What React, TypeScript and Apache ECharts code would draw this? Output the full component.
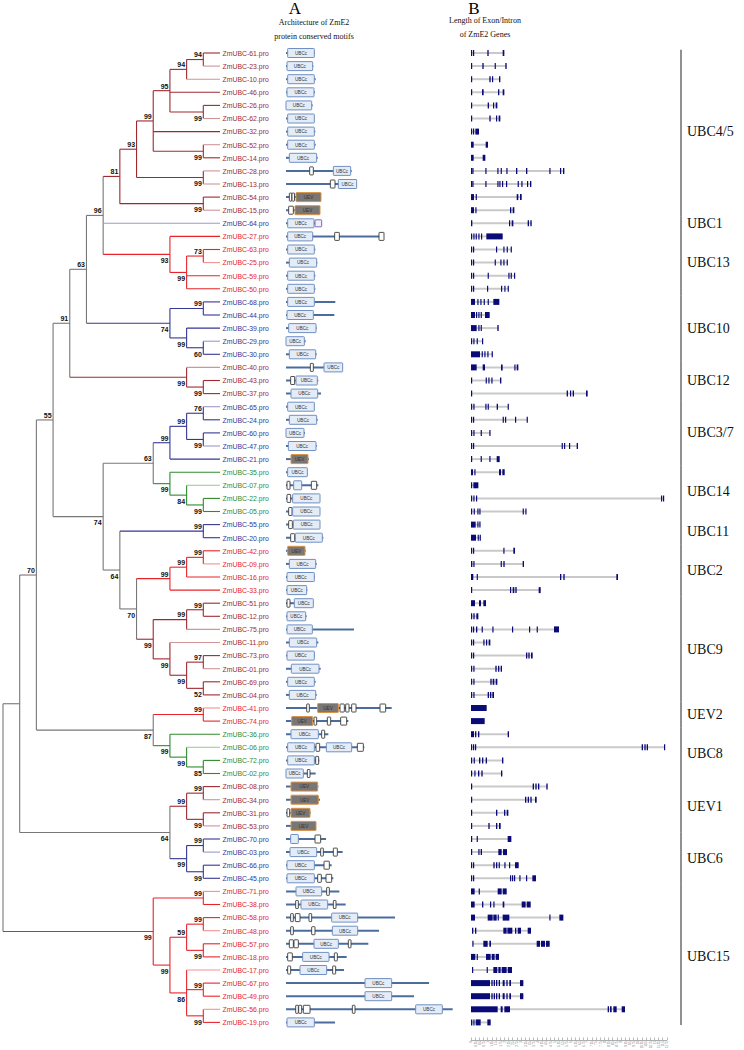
import React, { useEffect, useRef } from "react";
import * as echarts from "echarts";

// ---------------- Tree topology (Newick with bootstrap values) ----------------
const T_UBC45 = "((((((61,23)94,10)94,46,(26,62)99)95,32,(52,14)99)99,(28,13)99)93,(54,15)99)81";
const T_UBC13 = "(27,((63,25)73,59,50)99)93";
const T_N96 = `(${T_UBC45},64,${T_UBC13})96`;
const T_UBC10 = "((68,44)99,(39,(29,30)60)99)74";
const T_UBC12 = "(40,(43,37)99)99";
const T_N91 = `((${T_N96},${T_UBC10})63,${T_UBC12})91`;
const T_UBC37 = "(((65,24)76,(60,47)99)99,21)99";
const T_UBC14 = "(35,(07,(22,05)99)84)99";
const T_UBC11 = "(55,20)99";
const T_UBC2 = "(((42,09)99,16)99,33)99";
const T_UBC9 = "(((51,12)99,75)99,(11,((73,01)97,(69,04)52)99)99)99";
const T_N74 = `((${T_UBC37},${T_UBC14})63,(${T_UBC11},(${T_UBC2},${T_UBC9})70)64)74`;
const T_N87 = "((41,74)99,(36,(06,(72,02)85)99)99)87";
const T_N64 = "(((08,34)99,(31,53)99)99,((70,03)99,(66,45)99)99)64";
const T_UBC15 = "((71,38)99,(((58,48)99,(57,18)99)59,(17,(67,49)99,(56,19)99)86)99)99";
const NEWICK = `((((${T_N91},${T_N74})55,${T_N87})70,${T_N64}),${T_UBC15})`;

// ---------------- Subfamilies (in leaf order) ----------------
const GROUP_LABELS = ["UBC4/5", "UBC1", "UBC13", "UBC10", "UBC12", "UBC3/7", "UBC14", "UBC11", "UBC2", "UBC9", "UEV2", "UBC8", "UEV1", "UBC6", "UBC15"];
const GROUP_SIZES = [13, 1, 5, 5, 3, 5, 4, 2, 4, 8, 2, 4, 4, 4, 11];
const GROUP_TONES = ["dr", "b", "r", "b", "dr", "b", "g", "b", "r", "dr", "r", "g", "dr", "b", "r"];
const LIGHT_LEAVES = ["23", "10", "62", "52", "28", "13", "15", "64", "25", "29", "40", "65", "47", "07", "09", "75", "11", "01", "41", "06", "34", "53", "03", "71", "48", "17", "56"];

// ---------------- Protein architecture (aa) ----------------
const PROTEIN_LENGTH: Record<string, number> = {
  "61": 174, "23": 164, "10": 178, "46": 174, "26": 160, "62": 170, "32": 176, "52": 178, "14": 190,
  "28": 394, "13": 424, "54": 210, "15": 204, "64": 214, "27": 588, "63": 176, "25": 188, "59": 176,
  "50": 176, "68": 296, "44": 290, "39": 184, "29": 118, "30": 184, "40": 340, "43": 194, "37": 210,
  "65": 170, "24": 190, "60": 114, "47": 184, "21": 138, "35": 128, "07": 194, "22": 204, "05": 204,
  "55": 204, "20": 224, "42": 118, "09": 184, "16": 174, "33": 128, "51": 164, "12": 124, "75": 408,
  "11": 194, "73": 174, "01": 208, "69": 178, "04": 184, "41": 634, "74": 374, "36": 254, "06": 470,
  "72": 200, "02": 178, "08": 194, "34": 204, "31": 148, "53": 180, "70": 240, "03": 340, "66": 274,
  "45": 284, "71": 320, "38": 358, "58": 654, "48": 558, "57": 494, "18": 364, "17": 348, "67": 858,
  "49": 768, "56": 1000, "19": 294,
};
// U = UBCc, u = small UBCc, V = UEV, W = low-complexity segment, P = small extra box
const MOTIFS: Record<string, Array<[string, number, number]>> = {
  "61": [["U", 10, 170]], "23": [["U", 6, 160]], "10": [["U", 10, 170]], "46": [["U", 6, 168]],
  "26": [["U", 0, 154]], "62": [["U", 10, 170]], "32": [["U", 10, 170]], "52": [["U", 10, 170]],
  "14": [["U", 20, 184]],
  "28": [["W", 142, 164], ["U", 284, 388]],
  "13": [["W", 266, 294], ["U", 314, 424]],
  "54": [["W", 20, 32], ["W", 36, 50], ["V", 60, 210]],
  "15": [["W", 16, 44], ["V", 54, 204]],
  "64": [["U", 10, 168], ["P", 174, 214]],
  "27": [["U", 10, 160], ["W", 292, 320], ["W", 558, 588]],
  "63": [["U", 10, 170]], "25": [["U", 20, 184]], "59": [["U", 10, 170]], "50": [["U", 10, 170]],
  "68": [["U", 10, 170]], "44": [["U", 6, 164]], "39": [["U", 16, 180]], "29": [["U", 0, 110]],
  "30": [["U", 20, 178]],
  "40": [["W", 146, 164], ["U", 228, 340]],
  "43": [["W", 28, 52], ["U", 60, 188]],
  "37": [["U", 30, 190]], "65": [["U", 10, 170]], "24": [["U", 20, 184]], "60": [["U", 0, 108]],
  "47": [["U", 14, 180]], "21": [["V", 30, 132]], "35": [["U", 10, 128]],
  "07": [["W", 6, 24], ["u", 46, 94], ["W", 152, 184]],
  "22": [["W", 6, 28], ["U", 40, 204]],
  "05": [["W", 16, 36], ["U", 40, 204]],
  "55": [["W", 16, 38], ["U", 44, 204]],
  "20": [["W", 28, 52], ["U", 56, 218]],
  "42": [["V", 10, 114]], "09": [["U", 20, 178]], "16": [["U", 6, 170]], "33": [["U", 6, 124]],
  "51": [["W", 6, 24], ["U", 50, 164]],
  "12": [["U", 6, 118]], "75": [["U", 6, 158]], "11": [["U", 20, 184]], "73": [["U", 6, 170]],
  "01": [["U", 32, 198]], "69": [["U", 10, 170]], "04": [["U", 20, 178]],
  "41": [["W", 124, 140], ["V", 190, 314], ["W", 324, 350], ["W", 358, 378], ["W", 394, 420], ["W", 564, 598]],
  "74": [["V", 34, 160], ["W", 168, 184], ["W", 248, 268], ["W", 328, 364]],
  "36": [["U", 30, 194], ["W", 214, 232]],
  "06": [["U", 10, 170], ["W", 180, 202], ["U", 242, 394], ["W", 428, 464]],
  "72": [["U", 10, 170], ["W", 178, 196]],
  "02": [["U", 0, 104], ["W", 128, 144]],
  "08": [["V", 30, 190]], "34": [["V", 30, 194]],
  "31": [["W", 6, 22], ["V", 30, 144]],
  "53": [["V", 30, 180]],
  "70": [["u", 28, 74], ["W", 174, 208]],
  "03": [["U", 24, 184], ["W", 208, 224], ["W", 284, 308]],
  "66": [["U", 6, 170], ["W", 228, 260]],
  "45": [["U", 6, 170], ["W", 190, 212], ["W", 240, 274]],
  "71": [["U", 60, 214], ["W", 244, 260]],
  "38": [["W", 58, 74], ["U", 90, 250], ["W", 284, 300]],
  "58": [["W", 28, 44], ["W", 56, 84], ["W", 138, 154], ["U", 274, 430]],
  "48": [["W", 28, 44], ["W", 154, 174], ["U", 278, 430]],
  "57": [["W", 20, 44], ["W", 48, 74], ["U", 168, 314], ["W", 374, 390]],
  "18": [["W", 10, 38], ["U", 100, 258], ["W", 290, 308]],
  "17": [["W", 10, 28], ["U", 84, 244], ["W", 280, 298]],
  "67": [["U", 474, 634]], "49": [["U", 474, 634]],
  "56": [["W", 58, 74], ["W", 76, 94], ["W", 104, 144], ["W", 398, 414], ["U", 778, 938]],
  "19": [["U", 6, 170]],
};

// ---------------- Gene structure (exons, bp) ----------------
const EXONS: Record<string, number[][]> = {
  "61": [[0, 60], [120, 180], [980, 1060], [1900, 2000]],
  "23": [[0, 60], [680, 760], [1420, 1480], [2060, 2140]],
  "10": [[0, 60], [1100, 1180], [1260, 1320], [1680, 1760]],
  "46": [[0, 60], [660, 760], [1620, 1700], [1900, 2000]],
  "26": [[0, 60], [1000, 1080], [1320, 1380], [1480, 1580]],
  "62": [[0, 60], [1100, 1180], [1500, 1560], [1660, 1760]],
  "32": [[0, 60], [120, 180], [260, 480]],
  "52": [[0, 160], [880, 1020]],
  "14": [[0, 160], [700, 860]],
  "28": [[0, 40], [80, 120], [860, 920], [1580, 1620], [1780, 1840], [2120, 2180], [2700, 2780], [3300, 3380], [4700, 4760], [5340, 5400], [5520, 5600]],
  "13": [[0, 40], [80, 120], [860, 920], [1580, 1620], [1700, 1760], [1860, 1900], [2100, 2160], [2800, 2840], [3020, 3060], [3360, 3420], [3540, 3620]],
  "54": [[0, 180], [280, 340], [2740, 2840], [2940, 3040]],
  "15": [[0, 180], [260, 320], [2340, 2420], [2500, 2600]],
  "64": [[0, 80], [2280, 2340], [2440, 2540], [3400, 3480], [3560, 3640]],
  "27": [[0, 60], [140, 200], [280, 340], [440, 500], [600, 660], [920, 1900]],
  "63": [[0, 40], [120, 180], [1500, 1560], [1940, 2000], [2140, 2200], [2380, 2440]],
  "25": [[0, 40], [120, 180], [1420, 1480], [1760, 1820], [1940, 2000], [2140, 2200]],
  "59": [[0, 40], [120, 180], [1000, 1060], [2240, 2300], [2380, 2440], [2580, 2640]],
  "50": [[0, 40], [120, 180], [960, 1020], [1800, 1860], [2000, 2060], [2200, 2260]],
  "68": [[0, 240], [380, 440], [560, 620], [760, 820], [1000, 1060], [1340, 1700]],
  "44": [[0, 240], [300, 360], [440, 500], [580, 640], [840, 1120]],
  "39": [[0, 340], [440, 500], [580, 640], [1580, 1660]],
  "29": [[0, 60], [140, 200], [340, 400], [660, 720]],
  "30": [[0, 540], [640, 700], [800, 860], [980, 1040], [1240, 1300]],
  "40": [[0, 340], [700, 840], [1800, 1900], [2600, 2660], [2740, 2840]],
  "43": [[0, 60], [880, 940], [1040, 1100], [1220, 1280], [1740, 1820]],
  "37": [[0, 60], [5740, 5820], [5940, 6000], [6100, 6180], [6900, 7000]],
  "65": [[0, 60], [140, 200], [860, 920], [1000, 1060], [1540, 1620], [2200, 2240]],
  "24": [[0, 60], [120, 180], [1900, 1960], [2040, 2100], [2640, 2700], [3340, 3400]],
  "60": [[0, 60], [140, 200], [580, 640], [1100, 1160]],
  "47": [[0, 60], [120, 180], [5440, 5500], [5580, 5640], [5880, 5940], [6340, 6420]],
  "21": [[0, 60], [580, 640], [1100, 1160], [1540, 1720]],
  "35": [[0, 120], [200, 260], [1680, 1800], [1880, 2020]],
  "07": [[0, 60], [140, 440]],
  "22": [[0, 60], [140, 200], [300, 360], [11400, 11460], [11520, 11580]],
  "05": [[0, 60], [160, 220], [380, 440], [500, 560], [3100, 3160], [3260, 3320]],
  "55": [[0, 280], [380, 420], [500, 560]],
  "20": [[0, 300], [400, 440], [520, 580]],
  "42": [[0, 60], [120, 180], [1940, 2000], [2540, 2640]],
  "09": [[0, 80], [140, 180], [1780, 1840], [1940, 2020], [3100, 3180]],
  "16": [[0, 140], [340, 400], [5340, 5420], [5540, 5620], [8720, 8820]],
  "33": [[0, 40], [2340, 2400], [2500, 2600], [2660, 2740], [4060, 4180]],
  "51": [[0, 240], [480, 600], [740, 900]],
  "12": [[0, 60], [140, 220], [320, 440]],
  "75": [[0, 60], [120, 180], [300, 380], [640, 700], [1280, 1340], [2460, 2520], [3480, 3540], [3940, 4000], [4980, 5280]],
  "11": [[0, 60], [120, 180], [740, 800], [900, 960], [1060, 1160]],
  "73": [[0, 60], [120, 180], [3300, 3380], [3440, 3520], [3600, 3700]],
  "01": [[0, 60], [140, 200], [1460, 1540], [1620, 1700], [1780, 1860]],
  "69": [[0, 60], [140, 200], [1160, 1240], [1300, 1400], [1480, 1580]],
  "04": [[0, 60], [140, 200], [1000, 1080], [1140, 1220], [1280, 1380]],
  "41": [[0, 940]],
  "74": [[0, 820]],
  "36": [[0, 180], [240, 320], [420, 500], [2200, 2280]],
  "06": [[0, 60], [120, 180], [240, 300], [10240, 10320], [10400, 10480], [10540, 10620], [11580, 11640]],
  "72": [[0, 60], [160, 220], [480, 560], [660, 740], [880, 960], [1860, 1940]],
  "02": [[0, 60], [200, 260], [420, 500], [620, 700], [1800, 1880]],
  "08": [[0, 60], [3700, 3780], [3860, 3940], [4020, 4100], [4520, 4600]],
  "34": [[0, 60], [3240, 3320], [3400, 3480], [3560, 3640], [3840, 3940]],
  "31": [[0, 60], [1500, 1580], [1980, 2060], [2140, 2240]],
  "53": [[0, 60], [1040, 1120], [1500, 1580], [1680, 1780]],
  "70": [[0, 60], [340, 400], [2200, 2420]],
  "03": [[0, 60], [440, 500], [580, 660], [1640, 1840], [1920, 2160]],
  "66": [[0, 60], [120, 180], [1340, 1420], [1500, 1580], [1660, 1700], [2000, 2040], [2280, 2340], [2640, 2860]],
  "45": [[0, 60], [120, 180], [2340, 2400], [2460, 2520], [2580, 2640], [2900, 2960], [3300, 3360], [3680, 3900]],
  "71": [[0, 220], [460, 520], [1600, 1840], [1900, 2140]],
  "38": [[0, 220], [660, 740], [1140, 1200], [1340, 1400], [1900, 2000], [3040, 3280], [3340, 3580]],
  "58": [[0, 240], [1000, 1300], [1340, 1540], [1600, 1660], [1900, 2300], [4700, 4760], [5300, 5540]],
  "48": [[60, 140], [240, 320], [1940, 2140], [2180, 2480], [2640, 2720], [2800, 3000], [3400, 3600]],
  "57": [[80, 140], [740, 1000], [1100, 1200], [3940, 4140], [4200, 4440], [4500, 4720]],
  "18": [[0, 260], [340, 400], [900, 1180], [1240, 1420], [1480, 1680]],
  "17": [[60, 100], [940, 1000], [1340, 1580], [1640, 1780], [1840, 2140], [2200, 2460]],
  "67": [[0, 1140], [1220, 1300], [1360, 1440], [1500, 1580], [1660, 1740], [1900, 2020], [2120, 2200], [2300, 2400], [2940, 3140]],
  "49": [[0, 1140], [1220, 1300], [1360, 1440], [1500, 1580], [1660, 1740], [1900, 2020], [2120, 2200], [2300, 2400], [2940, 3140]],
  "56": [[0, 1600], [1780, 1900], [2000, 2340], [8200, 8280], [8340, 8440], [8540, 8740], [9040, 9240]],
  "19": [[0, 80], [140, 200], [280, 580], [980, 1180]],
};

const AA_MAX = 1100;
const GENE_MAX = 11750;
const GENE_TICK = 250;

// ---------------- styling ----------------
const TONES: Record<string, string> = { dr: "#9e2a30", r: "#e8242a", b: "#363694", g: "#2f8a2f" };
const SANS = '"Liberation Sans", Arial, sans-serif';
const SERIF = '"Liberation Serif", "Times New Roman", serif';

type TNode = { name?: string; support?: string; children: TNode[]; h: number; y: number; tone?: string | null };

function parseNewick(s: string): TNode {
  let i = 0;
  function node(): TNode {
    if (s[i] === "(") {
      i++;
      const ch: TNode[] = [node()];
      while (s[i] === ",") { i++; ch.push(node()); }
      i++; // ')'
      let lab = "";
      while (i < s.length && /[0-9]/.test(s[i])) lab += s[i++];
      return { children: ch, support: lab, h: 0, y: 0 };
    }
    let nm = "";
    while (i < s.length && /[0-9A-Za-z]/.test(s[i])) nm += s[i++];
    return { name: nm, children: [], h: 0, y: 0 };
  }
  return node();
}

function mixWhite(hex: string, t: number) {
  const n = parseInt(hex.slice(1), 16);
  const r = (n >> 16) & 255, g = (n >> 8) & 255, b = n & 255;
  const m = (c: number) => Math.round(c + (255 - c) * t);
  return `rgb(${m(r)},${m(g)},${m(b)})`;
}

function buildOption() {
  const root = parseNewick(NEWICK);
  const leaves: TNode[] = [];
  const toneOfRow: string[] = [];
  GROUP_SIZES.forEach((n, gi) => { for (let k = 0; k < n; k++) toneOfRow.push(GROUP_TONES[gi]); });

  function layout(n: TNode) {
    if (!n.children.length) {
      n.y = leaves.length; n.h = 0; n.tone = toneOfRow[leaves.length]; leaves.push(n); return;
    }
    n.children.forEach(layout);
    n.h = Math.max(...n.children.map((c) => c.h)) + 1;
    n.y = (n.children[0].y + n.children[n.children.length - 1].y) / 2;
    const t = n.children[0].tone;
    n.tone = n.children.every((c) => c.tone === t) ? t : null;
  }
  layout(root);

  const edges: { v: number[]; color: string }[] = [];
  const supports: { v: number[]; text: string; last: boolean }[] = [];
  function walk(n: TNode) {
    if (!n.children.length) return;
    const first = n.children[0], last = n.children[n.children.length - 1];
    const vColor = n.tone ? TONES[n.tone] : "#777777";
    edges.push({ v: [n.h, first.y, n.h, last.y], color: vColor });
    n.children.forEach((c, idx) => {
      let col = c.tone ? TONES[c.tone] : "#777777";
      if (!c.children.length && LIGHT_LEAVES.includes(c.name!)) col = mixWhite(col, 0.5);
      edges.push({ v: [n.h, c.y, c.h, c.y], color: col });
      if (c.children.length && c.support) {
        supports.push({ v: [c.h, c.y], text: c.support, last: idx === n.children.length - 1 });
      }
      walk(c);
    });
  }
  walk(root);

  const leafData = leaves.map((l) => ({ value: [0, l.y], name: l.name!, color: TONES[l.tone!] }));

  const motifLines: number[][] = [];
  const motifBoxes: { value: number[]; kind: string }[] = [];
  const introns: number[][] = [];
  const exons: number[][] = [];
  leaves.forEach((l, row) => {
    const id = l.name!;
    motifLines.push([0, PROTEIN_LENGTH[id], row]);
    (MOTIFS[id] || []).forEach(([k, s, e]) => motifBoxes.push({ value: [s, e, row], kind: k }));
    const ex = EXONS[id] || [];
    if (ex.length) {
      introns.push([ex[0][0], ex[ex.length - 1][1], row]);
      ex.forEach(([s, e]) => exons.push([s, e, row]));
    }
  });

  const groupData: number[][] = [];
  let start = 0;
  GROUP_SIZES.forEach((n, gi) => { groupData.push([start, start + n - 1, gi]); start += n; });
  const lastRow = leaves.length - 1;

  const rowAxis = (gi: number) => ({ type: "value", gridIndex: gi, min: 0, max: 74, inverse: true, show: false });
  const gridBase = { outerBoundsMode: "none", containLabel: false };
  const TOP = 53, H = 969.4;

  return {
    animation: false,
    backgroundColor: "#ffffff",
    grid: [
      { ...gridBase, left: 3, top: TOP, width: 217, height: H },
      { ...gridBase, left: 286, top: TOP, width: AA_MAX / 6, height: H },
      { ...gridBase, left: 471, top: TOP, width: GENE_MAX / 60, height: H },
      { ...gridBase, left: 471, top: 1039, width: GENE_MAX / 60, height: 1 },
      { ...gridBase, left: 681, top: TOP, width: 60, height: H },
    ],
    xAxis: [
      { type: "value", gridIndex: 0, min: 0, max: 13, inverse: true, show: false },
      { type: "value", gridIndex: 1, min: 0, max: AA_MAX, show: false },
      { type: "value", gridIndex: 2, min: 0, max: GENE_MAX, show: false },
      {
        type: "value", gridIndex: 3, min: 0, max: GENE_MAX, interval: GENE_TICK, position: "bottom",
        axisLine: { show: true, lineStyle: { color: "#8a8a8a", width: 0.7 } },
        axisTick: { show: true, inside: true, length: 2.5, lineStyle: { color: "#8a8a8a", width: 0.6 } },
        axisLabel: {
          show: true, rotate: 90, fontSize: 2.8, color: "#777", margin: 1.2, fontFamily: SANS,
          formatter: (v: number) => String(v / 1000),
        },
        splitLine: { show: false },
      },
      { type: "value", gridIndex: 4, min: 0, max: 1, show: false },
    ],
    yAxis: [rowAxis(0), rowAxis(1), rowAxis(2), { type: "value", gridIndex: 3, min: 0, max: 1, show: false }, rowAxis(4)],
    graphic: [
      { type: "text", x: 295, y: 8, style: { text: "A", fontSize: 17, fontFamily: SERIF, fill: "#000", align: "center", verticalAlign: "middle" } },
      { type: "text", x: 314, y: 22, style: { text: "Architecture of ZmE2", fontSize: 8, fontFamily: SERIF, fill: "#111", align: "center", verticalAlign: "middle" } },
      { type: "text", x: 314, y: 36, style: { text: "protein conserved motifs", fontSize: 8, fontFamily: SERIF, fill: "#111", align: "center", verticalAlign: "middle" } },
      { type: "text", x: 474, y: 8, style: { text: "B", fontSize: 17, fontFamily: SERIF, fill: "#000", align: "center", verticalAlign: "middle" } },
      { type: "text", x: 485, y: 20, style: { text: "Length of Exon/Intron", fontSize: 8, fontFamily: SERIF, fill: "#111", align: "center", verticalAlign: "middle" } },
      { type: "text", x: 485, y: 34, style: { text: "of ZmE2 Genes", fontSize: 8, fontFamily: SERIF, fill: "#111", align: "center", verticalAlign: "middle" } },
    ],
    series: [
      {
        type: "custom", name: "branches", xAxisIndex: 0, yAxisIndex: 0, clip: false,
        data: edges.map((e) => e.v), encode: { x: [0, 2], y: [1, 3] },
        renderItem: (params: any, api: any) => {
          const p1 = api.coord([api.value(0), api.value(1)]);
          const p2 = api.coord([api.value(2), api.value(3)]);
          return { type: "line", shape: { x1: p1[0], y1: p1[1], x2: p2[0], y2: p2[1] }, style: { stroke: edges[params.dataIndex].color, lineWidth: 1.1 } };
        },
      },
      {
        type: "custom", name: "bootstrap", xAxisIndex: 0, yAxisIndex: 0, clip: false,
        data: supports.map((s) => s.v), encode: { x: 0, y: 1 },
        renderItem: (params: any, api: any) => {
          const s = supports[params.dataIndex];
          const p = api.coord([api.value(0), api.value(1)]);
          return {
            type: "text", x: p[0] - 1.5, y: p[1] + (s.last ? 6.3 : -4.6),
            style: { text: s.text, fontSize: 7, fontWeight: "bold", fontFamily: SANS, fill: "#111111", align: "right", verticalAlign: "middle" },
          };
        },
      },
      {
        type: "custom", name: "leaves", xAxisIndex: 0, yAxisIndex: 0, clip: false,
        data: leafData.map((d) => d.value), encode: { x: 0, y: 1 },
        renderItem: (params: any, api: any) => {
          const d = leafData[params.dataIndex];
          const p = api.coord([api.value(0), api.value(1)]);
          return {
            type: "text", x: p[0] + 2.5, y: p[1] + 0.3,
            style: { text: `ZmUBC-${d.name}.pro`, fontSize: 6.9, fontFamily: SANS, fill: d.color, align: "left", verticalAlign: "middle" },
          };
        },
      },
      {
        type: "custom", name: "protein", xAxisIndex: 1, yAxisIndex: 1, clip: false,
        data: motifLines, encode: { x: [0, 1], y: 2 },
        renderItem: (params: any, api: any) => {
          const p1 = api.coord([api.value(0), api.value(2)]);
          const p2 = api.coord([api.value(1), api.value(2)]);
          return { type: "line", shape: { x1: p1[0], y1: p1[1], x2: p2[0], y2: p2[1] }, style: { stroke: "#4b6d9e", lineWidth: 2 } };
        },
      },
      {
        type: "custom", name: "motifs", xAxisIndex: 1, yAxisIndex: 1, clip: false,
        data: motifBoxes.map((m) => m.value), encode: { x: [0, 1], y: 2 },
        renderItem: (params: any, api: any) => {
          const kind = motifBoxes[params.dataIndex].kind;
          const p1 = api.coord([api.value(0), api.value(2)]);
          const p2 = api.coord([api.value(1), api.value(2)]);
          const w = Math.max(p2[0] - p1[0], 2.5);
          let h = 9, fill = "#e4ecf7", stroke = "#7090c2", r = 0.6, label = "UBCc", lw = 1;
          if (kind === "V") { fill = "#7a7673"; stroke = "#d99248"; label = "UEV"; }
          if (kind === "W") { fill = "#ffffff"; stroke = "#3a3a3a"; label = ""; h = 8; r = 0.5; lw = 0.9; }
          if (kind === "u") { label = ""; }
          if (kind === "P") { fill = "#f3eff9"; stroke = "#7b6db5"; label = ""; h = 7; }
          const rect = { type: "rect", shape: { x: p1[0], y: p1[1] - h / 2, width: w, height: h, r }, style: { fill, stroke, lineWidth: lw } };
          if (!label) return rect;
          return {
            type: "group",
            children: [
              rect,
              { type: "text", x: p1[0] + w / 2, y: p1[1] + 0.3, style: { text: label, fontSize: 4.6, fontFamily: SANS, fill: "#333", align: "center", verticalAlign: "middle" } },
            ],
          };
        },
      },
      {
        type: "custom", name: "introns", xAxisIndex: 2, yAxisIndex: 2, clip: false,
        data: introns, encode: { x: [0, 1], y: 2 },
        renderItem: (params: any, api: any) => {
          const p1 = api.coord([api.value(0), api.value(2)]);
          const p2 = api.coord([api.value(1), api.value(2)]);
          return { type: "line", shape: { x1: p1[0], y1: p1[1], x2: p2[0], y2: p2[1] }, style: { stroke: "#c9c9c9", lineWidth: 2 } };
        },
      },
      {
        type: "custom", name: "exons", xAxisIndex: 2, yAxisIndex: 2, clip: false,
        data: exons, encode: { x: [0, 1], y: 2 },
        renderItem: (params: any, api: any) => {
          const p1 = api.coord([api.value(0), api.value(2)]);
          const p2 = api.coord([api.value(1), api.value(2)]);
          const w = Math.max(p2[0] - p1[0], 1.2);
          return { type: "rect", shape: { x: p1[0], y: p1[1] - 3, width: w, height: 6 }, style: { fill: "#0b0b78" } };
        },
      },
      {
        type: "custom", name: "subfamilies", xAxisIndex: 4, yAxisIndex: 4, clip: false,
        data: groupData, encode: { x: 2, y: [0, 1] },
        renderItem: (params: any, api: any) => {
          const r0 = Math.max(api.value(0) - 0.5, -0.25);
          const r1 = Math.min(api.value(1) + 0.5, lastRow + 0.2);
          const a = api.coord([0, r0]);
          const b = api.coord([0, r1]);
          const m = api.coord([0, (api.value(0) + api.value(1)) / 2]);
          return {
            type: "group",
            children: [
              { type: "line", shape: { x1: a[0], y1: a[1], x2: b[0], y2: b[1] }, style: { stroke: "#222", lineWidth: 1 } },
              { type: "text", x: a[0] + 6, y: m[1], style: { text: GROUP_LABELS[api.value(2)], fontSize: 14, fontFamily: SERIF, fill: "#111", align: "left", verticalAlign: "middle" } },
            ],
          };
        },
      },
    ],
  };
}

export default function App() {
  const ref = useRef<HTMLDivElement>(null);
  useEffect(() => {
    if (!ref.current) return;
    const chart = echarts.init(ref.current, null, { renderer: "svg" });
    chart.setOption(buildOption() as any);
    return () => chart.dispose();
  }, []);
  return <div ref={ref} style={{ position: "absolute", left: 0, top: 0, width: 744, height: 1050, background: "#fff" }} />;
}
